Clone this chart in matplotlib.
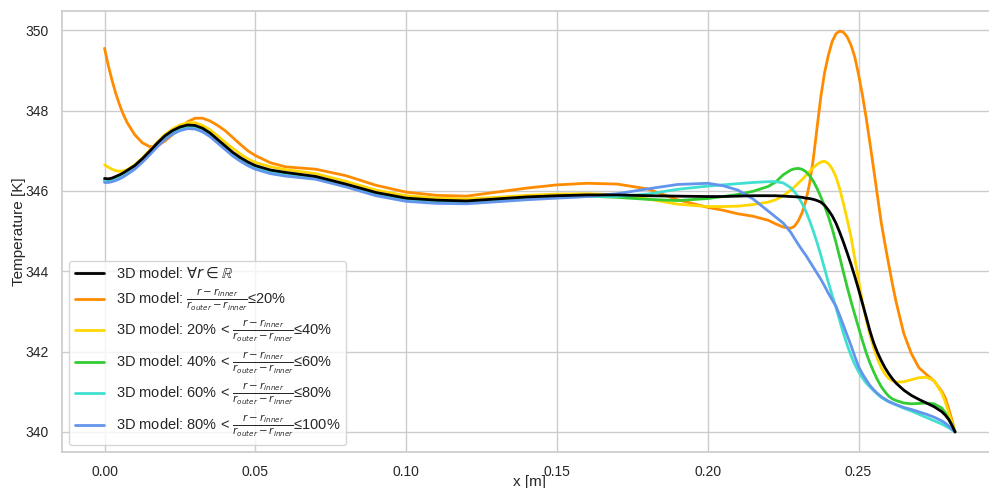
import matplotlib
matplotlib.use("Agg")
import matplotlib.pyplot as plt
import seaborn as sns

sns.set_theme(style="whitegrid")
plt.rcParams["font.family"] = ["Liberation Sans", "DejaVu Sans"]

# axial position along the channel [m]
x = [0.0, 0.00125, 0.0025, 0.00375, 0.005, 0.00625, 0.0075, 0.01, 0.0125, 0.015,
     0.0175, 0.02, 0.0225, 0.025, 0.0275, 0.03, 0.0325, 0.035, 0.0375, 0.04,
     0.0425, 0.045, 0.0475, 0.05, 0.055, 0.06,
     0.07, 0.08, 0.09, 0.10, 0.11, 0.12, 0.13, 0.14, 0.15, 0.16,
     0.17, 0.18, 0.19, 0.20, 0.205, 0.21, 0.215, 0.22, 0.2225, 0.225,
     0.2275, 0.22875, 0.23, 0.23125, 0.2325, 0.23375, 0.235, 0.23625, 0.2375, 0.23875,
     0.24, 0.24125, 0.2425, 0.24375, 0.245, 0.24625, 0.2475, 0.24875, 0.25, 0.25125,
     0.2525, 0.25375, 0.255, 0.25625, 0.2575, 0.25875, 0.26, 0.26125,
     0.2625, 0.265, 0.2675, 0.27, 0.2725, 0.275, 0.2775, 0.27875, 0.28, 0.281, 0.282]

# whole cross-section average temperature [K]
t_all = [346.31, 346.30, 346.32, 346.36, 346.40, 346.45, 346.51, 346.63, 346.80, 346.99,
         347.19, 347.37, 347.50, 347.59, 347.64, 347.63, 347.56, 347.44, 347.28, 347.12,
         346.96, 346.83, 346.72, 346.63, 346.52, 346.46,
         346.36, 346.17, 345.96, 345.82, 345.77, 345.75, 345.80, 345.85, 345.88, 345.90,
         345.90, 345.88, 345.87, 345.86, 345.86, 345.87, 345.88, 345.88, 345.88, 345.87,
         345.86, 345.855, 345.85, 345.84, 345.82, 345.81, 345.79, 345.76, 345.72, 345.64,
         345.52, 345.38, 345.20, 344.97, 344.72, 344.45, 344.17, 343.87, 343.55, 343.21,
         342.87, 342.52, 342.22, 341.98, 341.78, 341.60, 341.45, 341.32,
         341.21, 341.04, 340.91, 340.81, 340.72, 340.63, 340.51, 340.42, 340.30, 340.16, 340.00]

# radial band 0-20 %
t_b1 = [349.55, 349.12, 348.75, 348.42, 348.14, 347.90, 347.70, 347.40, 347.20, 347.10,
        347.12, 347.24, 347.40, 347.57, 347.72, 347.81, 347.81, 347.74, 347.63, 347.50,
        347.33, 347.16, 347.00, 346.88, 346.70, 346.60,
        346.54, 346.38, 346.14, 345.97, 345.89, 345.87, 345.97, 346.07, 346.15, 346.19,
        346.17, 346.05, 345.78, 345.59, 345.52, 345.43, 345.37, 345.27, 345.18, 345.10,
        345.07, 345.12, 345.25, 345.45, 345.75, 346.18, 346.80, 347.58, 348.35, 348.95,
        349.38, 349.72, 349.91, 349.98, 349.95, 349.83, 349.63, 349.33, 348.90, 348.40,
        347.83, 347.20, 346.55, 345.88, 345.22, 344.68, 344.17, 343.67,
        343.22, 342.45, 341.95, 341.60, 341.43, 341.27, 341.02, 340.85, 340.55, 340.28, 340.00]

# radial band 20-40 %
t_b2 = [346.65, 346.59, 346.54, 346.50, 346.49, 346.50, 346.53, 346.65, 346.82, 347.02,
        347.22, 347.40, 347.54, 347.64, 347.70, 347.70, 347.63, 347.52, 347.37, 347.21,
        347.06, 346.92, 346.80, 346.71, 346.60, 346.53,
        346.43, 346.24, 346.02, 345.88, 345.82, 345.80, 345.84, 345.89, 345.92, 345.93,
        345.90, 345.80, 345.67, 345.61, 345.61, 345.62, 345.66, 345.72, 345.78, 345.88,
        346.02, 346.10, 346.19, 346.28, 346.38, 346.48, 346.58, 346.66, 346.72, 346.74,
        346.68, 346.55, 346.35, 346.05, 345.68, 345.28, 344.85, 344.32, 343.78, 343.25,
        342.80, 342.42, 342.10, 341.82, 341.60, 341.44, 341.33, 341.27,
        341.24, 341.25, 341.30, 341.35, 341.36, 341.28, 340.98, 340.75, 340.45, 340.22, 340.00]

# radial band 40-60 %
t_b3 = [346.27, 346.27, 346.29, 346.33, 346.37, 346.42, 346.48, 346.60, 346.77, 346.96,
        347.16, 347.34, 347.47, 347.56, 347.61, 347.60, 347.53, 347.41, 347.25, 347.09,
        346.93, 346.80, 346.69, 346.60, 346.49, 346.43,
        346.33, 346.14, 345.93, 345.79, 345.74, 345.73, 345.78, 345.83, 345.86, 345.87,
        345.84, 345.79, 345.76, 345.81, 345.86, 345.91, 345.99, 346.11, 346.22, 346.40,
        346.52, 346.55, 346.56, 346.54, 346.48, 346.38, 346.24, 346.06, 345.85, 345.62,
        345.36, 345.06, 344.72, 344.35, 343.97, 343.60, 343.25, 342.92, 342.60, 342.28,
        341.98, 341.72, 341.50, 341.30, 341.13, 341.00, 340.89, 340.82,
        340.78, 340.72, 340.70, 340.71, 340.72, 340.70, 340.60, 340.48, 340.30, 340.16, 340.00]

# radial band 60-80 %
t_b4 = [346.24, 346.24, 346.26, 346.30, 346.34, 346.39, 346.45, 346.57, 346.74, 346.93,
        347.13, 347.31, 347.44, 347.53, 347.58, 347.57, 347.50, 347.38, 347.22, 347.06,
        346.90, 346.77, 346.66, 346.57, 346.46, 346.40,
        346.31, 346.12, 345.91, 345.77, 345.72, 345.71, 345.76, 345.81, 345.84, 345.86,
        345.86, 345.92, 346.04, 346.12, 346.15, 346.18, 346.21, 346.23, 346.23, 346.20,
        346.08, 345.98, 345.85, 345.69, 345.50, 345.26, 345.00, 344.71, 344.40, 344.06,
        343.72, 343.40, 343.10, 342.77, 342.45, 342.16, 341.90, 341.68, 341.50, 341.35,
        341.22, 341.12, 341.03, 340.94, 340.86, 340.80, 340.75, 340.71,
        340.67, 340.59, 340.52, 340.44, 340.36, 340.28, 340.20, 340.15, 340.10, 340.05, 340.00]

# radial band 80-100 %
t_b5 = [346.21, 346.21, 346.23, 346.26, 346.30, 346.35, 346.41, 346.54, 346.71, 346.90,
        347.10, 347.28, 347.41, 347.50, 347.55, 347.54, 347.47, 347.35, 347.19, 347.03,
        346.87, 346.74, 346.63, 346.54, 346.43, 346.37,
        346.29, 346.10, 345.88, 345.74, 345.69, 345.68, 345.73, 345.78, 345.82, 345.86,
        345.93, 346.05, 346.16, 346.19, 346.13, 346.02, 345.80, 345.50, 345.35, 345.20,
        344.97, 344.82, 344.67, 344.53, 344.40, 344.25, 344.10, 343.95, 343.80, 343.63,
        343.45, 343.29, 343.13, 342.90, 342.65, 342.40, 342.15, 341.88, 341.63, 341.45,
        341.30, 341.16, 341.05, 340.96, 340.88, 340.82, 340.76, 340.72,
        340.68, 340.61, 340.56, 340.50, 340.44, 340.37, 340.28, 340.22, 340.14, 340.07, 340.00]

frac = r"$\frac{r-r_{inner}}{r_{outer}-r_{inner}}$"
labels = [
    r"3D model: $\forall r \in \mathbb{R}$",
    "3D model: " + frac + "≤20%",
    "3D model: 20% < " + frac + "≤40%",
    "3D model: 40% < " + frac + "≤60%",
    "3D model: 60% < " + frac + "≤80%",
    "3D model: 80% < " + frac + "≤100%",
]
colors = ["black", "darkorange", "gold", "limegreen", "turquoise", "cornflowerblue"]
series = [t_all, t_b1, t_b2, t_b3, t_b4, t_b5]
draw_order = [1, 2, 3, 4, 5, 0]

fig = plt.figure(figsize=(9.89, 4.88), dpi=100)
ax = fig.add_axes([0.0627, 0.0738, 0.946, 0.9037])

handles = {}
for i in draw_order:
    (h,) = ax.plot(x, series[i], color=colors[i], lw=2.0, label=labels[i],
                   zorder=3 if i == 0 else 2)
    handles[i] = h

ax.set_xlabel("x [m]", fontsize=11, labelpad=-3)
ax.set_ylabel("Temperature [K]", fontsize=11, labelpad=-0.5)
ax.tick_params(labelsize=10)
ax.legend([handles[i] for i in range(6)], labels, loc="lower left", fontsize=10.5,
          labelspacing=0.36, frameon=True)

fig.savefig("out.png", dpi=100)
